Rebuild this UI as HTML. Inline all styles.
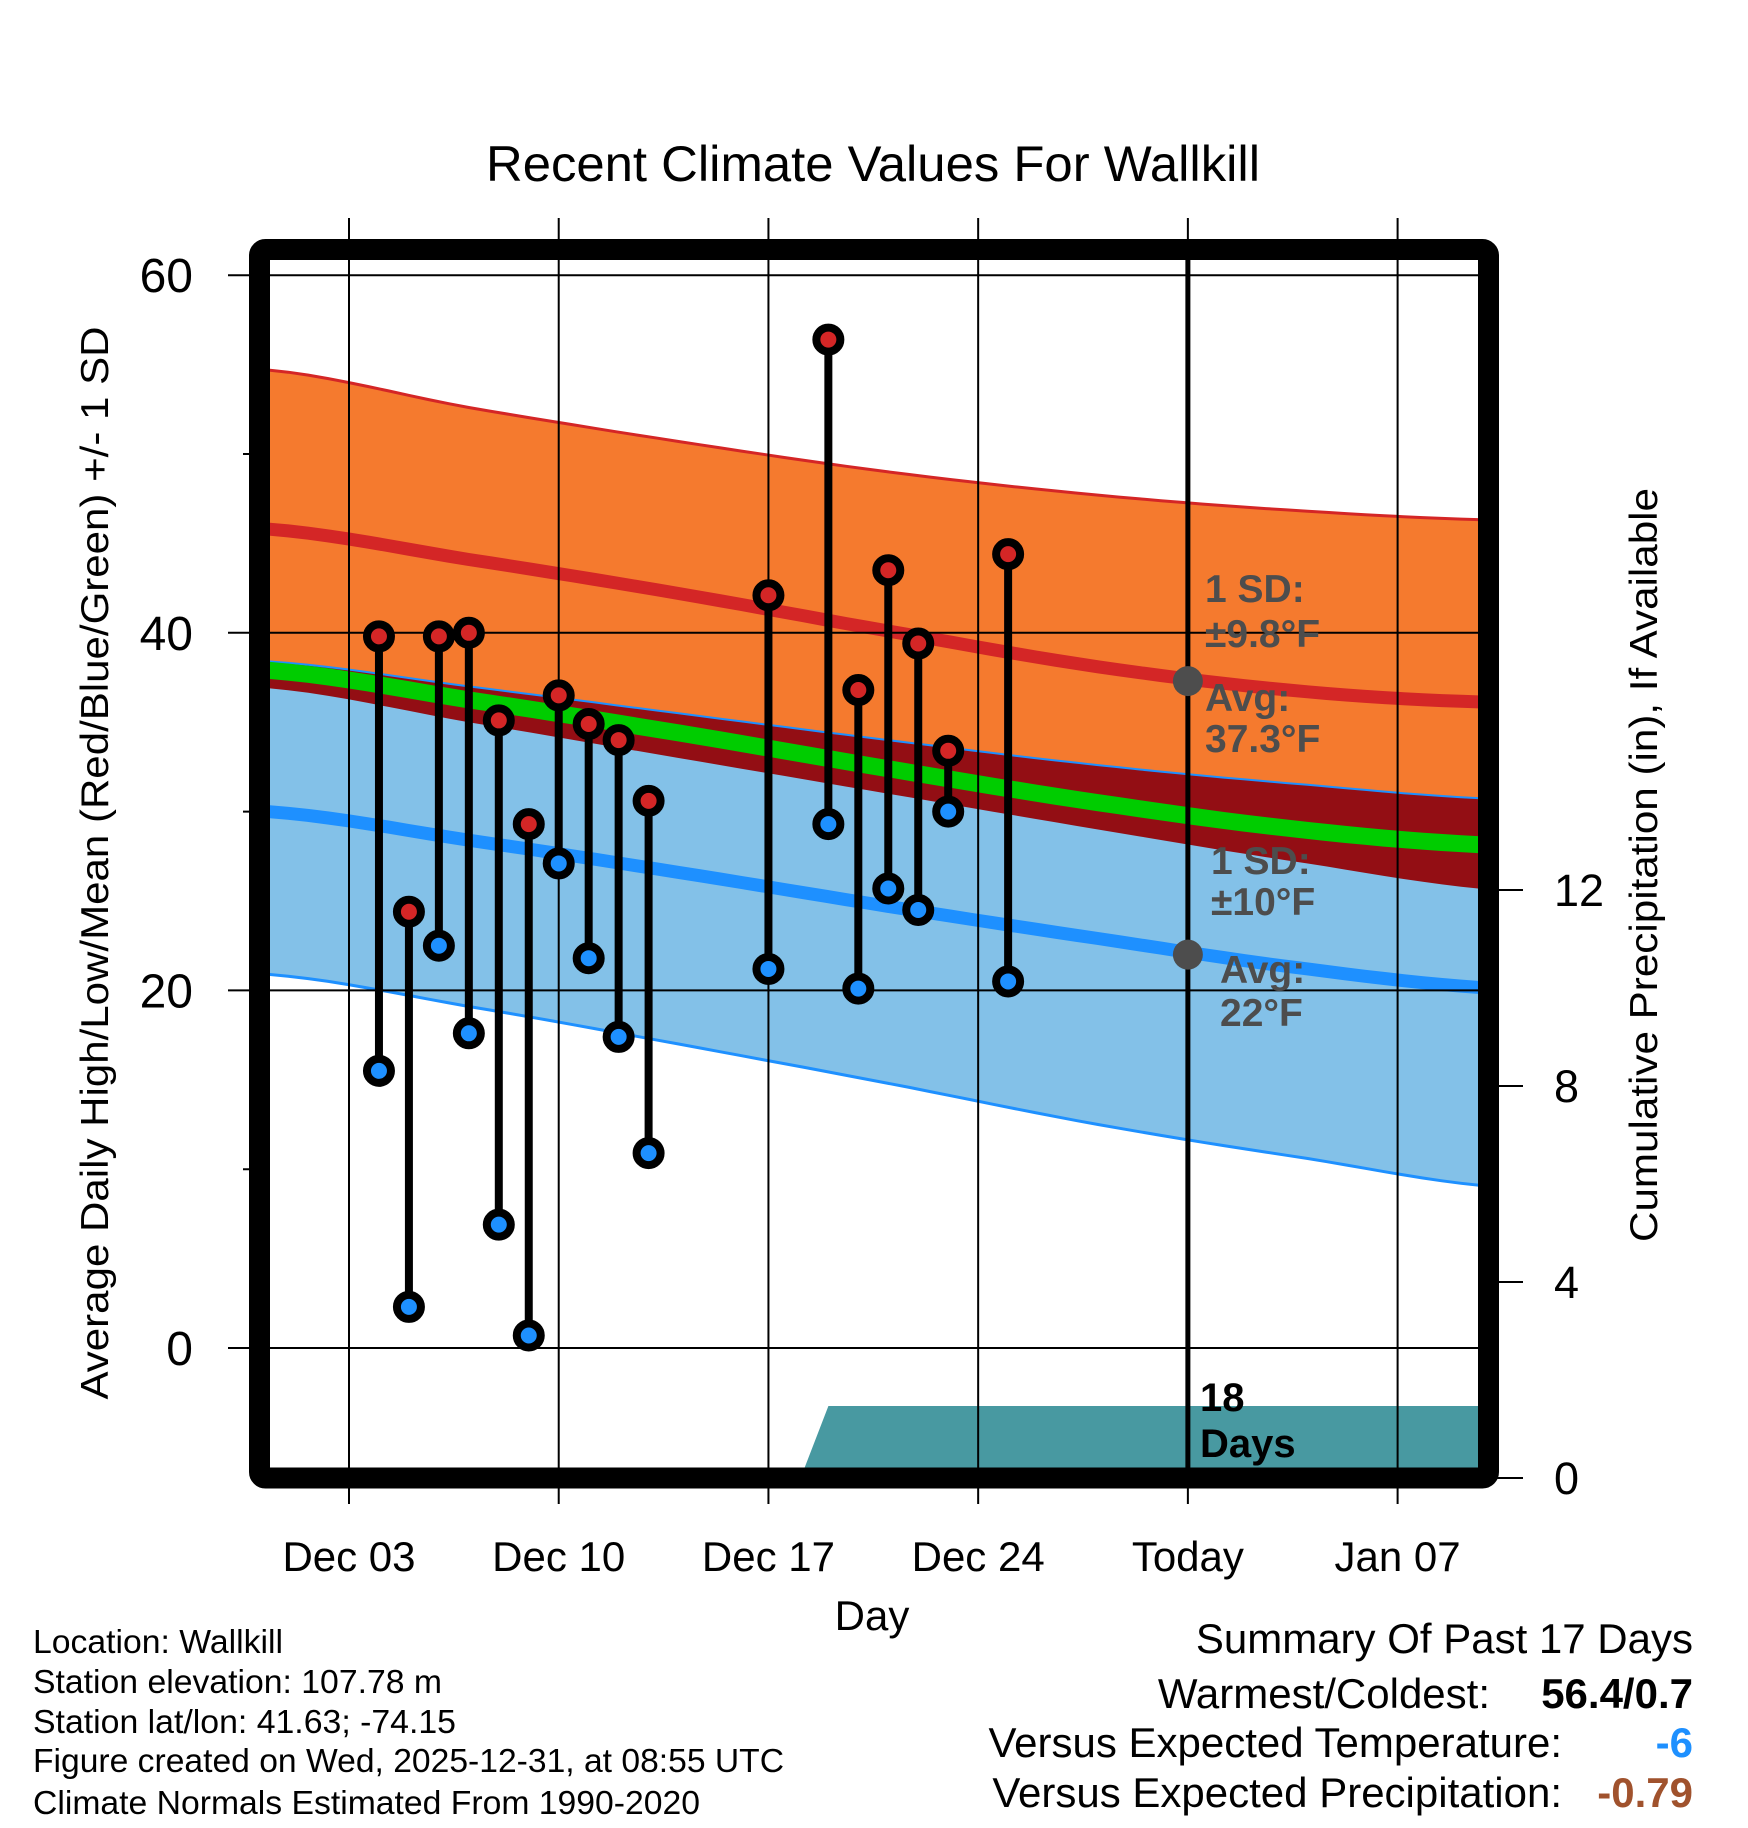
<!DOCTYPE html>
<html><head><meta charset="utf-8"><style>
html,body{margin:0;padding:0;background:#fff;}
svg{display:block;font-family:"Liberation Sans",Arial,sans-serif;}
</style></head><body>
<svg id="chart" width="1748" height="1828" viewBox="0 0 1748 1828" xmlns="http://www.w3.org/2000/svg">
<defs><clipPath id="plotclip"><rect x="270" y="260" width="1208" height="1208"/></clipPath></defs>
<rect width="1748" height="1828" fill="#fff"/>
<text x="873" y="181" font-size="50" text-anchor="middle" textLength="774" lengthAdjust="spacingAndGlyphs">Recent Climate Values For Wallkill</text>
<g id="plot" clip-path="url(#plotclip)"></g>
<g id="over"></g>
<text transform="translate(108,863) rotate(-90)" font-size="39" text-anchor="middle" textLength="1073" lengthAdjust="spacingAndGlyphs">Average Daily High/Low/Mean (Red/Blue/Green) +/- 1 SD</text>
<text transform="translate(1657,865) rotate(-90)" font-size="39" text-anchor="middle" textLength="754" lengthAdjust="spacingAndGlyphs">Cumulative Precipitation (in), If Available</text>
<text x="872" y="1630" font-size="42" text-anchor="middle">Day</text>
<g font-size="33">
<text x="33" y="1653" textLength="250" lengthAdjust="spacingAndGlyphs">Location: Wallkill</text>
<text x="33" y="1693" textLength="409" lengthAdjust="spacingAndGlyphs">Station elevation: 107.78 m</text>
<text x="33" y="1733" textLength="423" lengthAdjust="spacingAndGlyphs">Station lat/lon: 41.63; -74.15</text>
<text x="33" y="1772" textLength="751" lengthAdjust="spacingAndGlyphs">Figure created on Wed, 2025-12-31, at 08:55 UTC</text>
<text x="33" y="1814" textLength="667" lengthAdjust="spacingAndGlyphs">Climate Normals Estimated From 1990-2020</text>
</g>
<g font-size="42" text-anchor="end">
<text x="1693" y="1653">Summary Of Past 17 Days</text>
<text x="1490" y="1708">Warmest/Coldest:</text>
<text x="1693" y="1708" font-weight="bold">56.4/0.7</text>
<text x="1562" y="1757">Versus Expected Temperature:</text>
<text x="1693" y="1757" font-weight="bold" fill="#1e90ff">-6</text>
<text x="1562" y="1807">Versus Expected Precipitation:</text>
<text x="1693" y="1807" font-weight="bold" fill="#a0522d">-0.79</text>
</g>
</svg>
<script>
// day = day of December (Jan 7 = 38)
const obsDays = [4,5,6,7,8,9,10,11,12,13,17,19,20,21,22,23,25];
const highs = [39.8,24.4,39.8,40,35.1,29.3,36.5,34.9,34,30.6,42.1,56.4,36.8,43.5,39.4,33.4,44.4];
const lows = [15.5,2.3,22.5,17.6,6.9,0.7,27.1,21.8,17.4,10.9,21.2,29.3,20.1,25.7,24.5,30,20.5];
const normDays = [0.3,7,14,21,28,35,41.4];
const highPlusSD = [54.7,52.6,50.7,49.0,47.7,46.8,46.3];
const highAvg = [45.8,44.1,42.2,40.1,38.1,36.7,36.1];
const highMinusSD = [36.9,35.0,33.0,31.0,29.0,27.1,25.6];
const lowPlusSD = [38.4,37.0,35.5,34.0,32.6,31.5,30.7];
const meanAvg = [37.9,36.25,34.4,32.4,30.5,28.95,28.1];
const lowAvg = [30,28.4,26.6,24.7,22.9,21.2,20.1];
const lowMinusSD = [20.9,19.1,17.0,14.8,12.5,10.6,9.0];
const precipDays = [12.6,18.1,19.0,41.4];
const precipVals = [0.02,0.04,1.47,1.47];
const tempTicks = [0,20,40,60];
const tempMinor = [10,30,50];
const precipTicks = [0,4,8,12];
const xTickDays = [3,10,17,24,31,38];
const xTickLabels = ["Dec 03","Dec 10","Dec 17","Dec 24","Today","Jan 07"];
const todayDay = 31;
const todayHighAvg = 37.3;
const todayLowAvg = 22;

const NS="http://www.w3.org/2000/svg";
const xD = d => 349 + (d-3)*29.96;
const yT = t => 1348 - t*17.88;
const yP = p => 1478 - p*49;
const plot=document.getElementById('plot'), over=document.getElementById('over');
function mk(tag, attrs, parent){const e=document.createElementNS(NS,tag);for(const k in attrs)e.setAttribute(k,attrs[k]);parent.appendChild(e);return e;}
// smooth via Catmull-Rom sampling
function smooth(days, vals){
  const out=[];
  for(let i=0;i<days.length-1;i++){
    const p0=vals[Math.max(i-1,0)],p1=vals[i],p2=vals[i+1],p3=vals[Math.min(i+2,vals.length-1)];
    for(let s=0;s<10;s++){
      const t=s/10;
      const v=0.5*((2*p1)+(-p0+p2)*t+(2*p0-5*p1+4*p2-p3)*t*t+(-p0+3*p1-3*p2+p3)*t*t*t);
      const d=days[i]+(days[i+1]-days[i])*t;
      out.push(xD(d).toFixed(1)+','+yT(v).toFixed(1));
    }
  }
  out.push(xD(days[days.length-1]).toFixed(1)+','+yT(vals[vals.length-1]).toFixed(1));
  return out;
}
function band(upper, lower, fill, name){
  const p=smooth(normDays,upper).concat(smooth(normDays,lower).reverse());
  const e=mk('polygon',{points:p.join(' '),fill:fill},plot);
  
  
}
function line(vals, color, w, name){
  const e=mk('polyline',{points:smooth(normDays,vals).join(' '),fill:'none',stroke:color,'stroke-width':w},plot);
  
  
}
// precip
{
  const p=[xD(precipDays[0]).toFixed(1)+','+yP(0)].concat(precipDays.map((d,i)=>xD(d).toFixed(1)+','+yP(precipVals[i]).toFixed(1))).concat([xD(precipDays[precipDays.length-1]).toFixed(1)+','+yP(0)]);
  const e=mk('polygon',{points:p.join(' '),fill:'#4899a1'},plot);
  
  
}
band(highPlusSD, highMinusSD, '#f57a2e', 'high-sd-band');
band(lowPlusSD, lowMinusSD, '#83c1e8', 'low-sd-band');
band(lowPlusSD, highMinusSD, '#930e14', 'overlap-band');
line(highPlusSD,'#d42626',3,'high-plus-sd-line');
line(lowPlusSD,'#1e90ff',2,'low-plus-sd-line');
line(lowMinusSD,'#1e90ff',3,'low-minus-sd-line');
line(highAvg,'#d42626',13,'high-avg-line');
line(lowAvg,'#1e90ff',13,'low-avg-line');
line(meanAvg,'#00cc00',17,'mean-line');
// grid
tempTicks.forEach(t=>{
  const e=mk('line',{x1:228,x2:1478,y1:yT(t),y2:yT(t),stroke:'#000','stroke-width':2},over);
  
  
  const l=mk('text',{x:193,y:yT(t)+17,'font-size':48,'text-anchor':'end'},over);l.textContent=t;
  
  
});
tempMinor.forEach(t=>{
  const e=mk('line',{x1:243,x2:260,y1:yT(t),y2:yT(t),stroke:'#000','stroke-width':2},over);
  
  
});
precipTicks.forEach(p=>{
  const e=mk('line',{x1:1488,x2:1523,y1:yP(p),y2:yP(p),stroke:'#000','stroke-width':2},over);
  
  
  const l=mk('text',{x:1554,y:yP(p)+16,'font-size':45},over);l.textContent=p;
  
  
});
xTickDays.forEach((d,i)=>{
  const e=mk('line',{x1:xD(d),x2:xD(d),y1:218,y2:1504,stroke:'#000','stroke-width':2},over);
  
  
  const l=mk('text',{x:xD(d),y:1571,'font-size':42,'text-anchor':'middle'},over);l.textContent=xTickLabels[i];
  
  
});
// today line
{
  const e=mk('line',{x1:xD(todayDay),x2:xD(todayDay),y1:260,y2:1468,stroke:'#000','stroke-width':5},over);
  
  
  const a=mk('circle',{cx:xD(todayDay),cy:yT(todayHighAvg),r:15,fill:'#4d4d4d'},over);
  
  
  const b=mk('circle',{cx:xD(todayDay),cy:yT(todayLowAvg),r:15,fill:'#4d4d4d'},over);
  
  
}
// annotations
[[1205,602,'1 SD:'],[1205,647,'±9.8°F'],[1205,711,'Avg:'],[1205,752,'37.3°F'],[1211,874,'1 SD:'],[1211,915,'±10°F'],[1220,983,'Avg:'],[1220,1026,'22°F']].forEach(a=>{
  const l=mk('text',{x:a[0],y:a[1],'font-size':39,'font-weight':'bold',fill:'#4d4d4d'},over);l.textContent=a[2];
  
  
});
[[1200,1411,'18'],[1200,1457,'Days']].forEach(a=>{
  const l=mk('text',{x:a[0],y:a[1],'font-size':40,'font-weight':'bold',fill:'#000'},over);l.textContent=a[2];
  
  
});
// observations
obsDays.forEach((d,i)=>{
  const x=xD(d);
  const s=mk('line',{x1:x,x2:x,y1:yT(highs[i]),y2:yT(lows[i]),stroke:'#000','stroke-width':8},over);
  
  
  const h=mk('circle',{cx:x,cy:yT(highs[i]),r:12,fill:'#d42626',stroke:'#000','stroke-width':8},over);
  
  
  const l=mk('circle',{cx:x,cy:yT(lows[i]),r:12,fill:'#1e90ff',stroke:'#000','stroke-width':8},over);
  
  
});
// frame
{
  const f=mk('rect',{x:259.5,y:249.5,width:1229,height:1228.5,rx:6,fill:'none',stroke:'#000','stroke-width':21},over);
  
  
}
</script>
</body></html>
